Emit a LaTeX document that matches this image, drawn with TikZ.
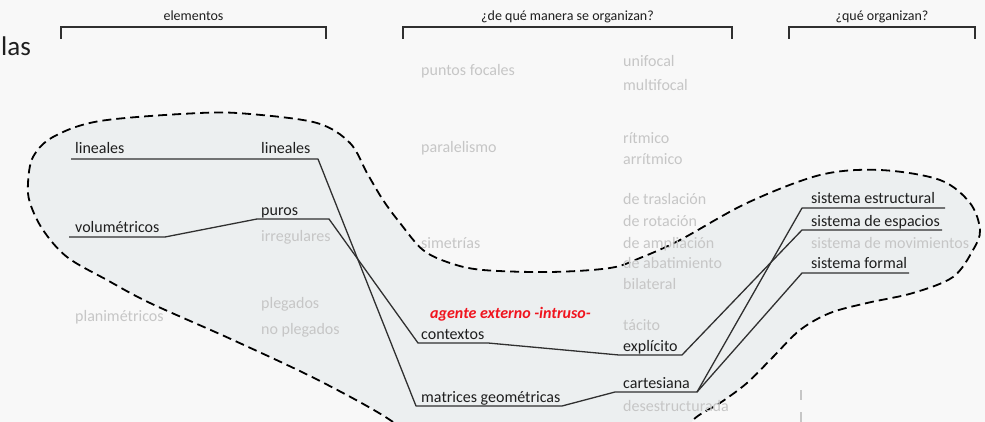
\documentclass[tikz,border=0pt]{standalone}
\usepackage{fontspec}
\setmainfont{Carlito}
\usepackage{xcolor}
\usetikzlibrary{positioning}
\definecolor{bgpage}{HTML}{F8F8F8}
\definecolor{bgblob}{HTML}{ECEFF0}
\definecolor{faint}{HTML}{C6C6C6}
\definecolor{ink}{HTML}{1E1E1E}
\definecolor{wire}{HTML}{303030}
\definecolor{intruder}{HTML}{F0141E}
\tikzstyle{term}    = [anchor=base west, inner sep=0pt, text=ink, font=\fontsize{16}{18}\selectfont]
\tikzstyle{muted}   = [term, text=faint]
\tikzstyle{head}    = [anchor=base, inner sep=0pt, text=ink, font=\fontsize{14}{16}\selectfont]
\tikzstyle{link}    = [draw=wire, line width=1.3pt, line join=round]
\tikzstyle{bracket} = [draw=wire, line width=1.2pt]
\tikzstyle{blob}    = [fill=bgblob, draw=black, line width=1.8pt, dash pattern=on 9pt off 5pt]

\begin{document}
\begin{tikzpicture}[x=1pt, y=-1pt]
    \useasboundingbox (0,0) rectangle (985,422);
    \fill[bgpage] (0,0) rectangle (985,422);

    \begin{scope}
        \clip (0,0) rectangle (985,422);
        \draw[blob] plot[smooth cycle, tension=0.55] coordinates {
            (420,452) (393,422) (320,381) (233,340) (150,303) (107,280) (67,257) (43,230)
            (30,203) (28,183) (33,157) (53,137) (100,121) (200,113) (250,114) (317,123)
            (350,143) (367,173) (383,200) (400,223) (423,250) (450,263) (483,270) (550,272)
            (610,268) (640,258) (680,240) (747,203) (820,175) (880,170) (940,180) (970,203)
            (980,230) (973,250) (953,277) (913,293) (867,303) (830,313) (800,330) (773,357)
            (747,383) (720,403) (693,420) (670,452) (540,470)};
    \end{scope}

    \node (las) at (1,56) [anchor=base west, inner sep=0pt, text=ink, font=\fontsize{27}{30}\selectfont] {las};

    \node (hElem) at (193.5,21) [head] {elementos};
    \node (hHow)  at (567.5,21) [head] {¿de qué manera se organizan?};
    \node (hWhat) at (882,21)   [head] {¿qué organizan?};
    \draw [bracket] (61,39)  -- (61,27)  -- (326,27) -- (326,39);
    \draw [bracket] (403,39) -- (403,27) -- (732,27) -- (732,39);
    \draw [bracket] (789,39) -- (789,27) -- (975,27) -- (975,39);

    \node (lin1)  at (75,154)  [term]  {lineales};
    \node (vol)   at (75,233)  [term]  {volumétricos};
    \node (plan)  at (75,321)  [muted] {planimétricos};
    \node (lin2)  at (261,154) [term]  {lineales};
    \node (puros) at (261,215) [term]  {puros};
    \node (irreg) at (261,241) [muted] {irregulares};
    \node (pleg)  at (261,308) [muted] {plegados};
    \node (nopleg) at (261,334)[muted] {no plegados};

    \node (focal) at (421,76)  [muted] {puntos focales};
    \node (paral) at (421,153) [muted] {paralelismo};
    \node (simet) at (421,248) [muted] {simetrías};
    \node (contx) at (421,339) [term]  {contextos};
    \node (matr)  at (421,402) [term]  {matrices geométricas};
    \node (intru) at (430,318) [anchor=base west, inner sep=0pt, text=intruder, font=\fontsize{16}{18}\selectfont\bfseries\itshape] {agente externo -intruso-};

    \node (unif)  at (623,67)  [muted] {unifocal};
    \node (multf) at (623,91)  [muted] {multifocal};
    \node (ritm)  at (623,144) [muted] {rítmico};
    \node (arrit) at (623,165) [muted] {arrítmico};
    \node (trasl) at (623,205) [muted] {de traslación};
    \node (rotac) at (623,226) [muted] {de rotación};
    \node (ampli) at (623,248) [muted] {de ampliación};
    \node (abati) at (623,269) [muted] {de abatimiento};
    \node (bilat) at (623,289) [muted] {bilateral};
    \node (tacit) at (623,330) [muted] {tácito};
    \node (expl)  at (623,351) [term]  {explícito};
    \node (cart)  at (623,388) [term]  {cartesiana};
    \node (deses) at (623,411) [muted] {desestructurada};

    \node (sEst)  at (811,204) [term]  {sistema estructural};
    \node (sEsp)  at (811,226) [term]  {sistema de espacios};
    \node (sMov)  at (811,248) [muted] {sistema de movimientos};
    \node (sForm) at (811,268) [term]  {sistema formal};

    \coordinate (linA) at (71,159);   \coordinate (linB) at (318,159);
    \coordinate (volA) at (69,237);   \coordinate (volB) at (165,237);
    \coordinate (volC) at (257,219);  \coordinate (volD) at (329,219);
    \coordinate (conA) at (418,343);  \coordinate (conB) at (488,343);
    \coordinate (matA) at (416,406);  \coordinate (matB) at (562,406);
    \coordinate (expA) at (619,355);  \coordinate (expB) at (682,355);
    \coordinate (carA) at (615,392);  \coordinate (carB) at (697,392);
    \coordinate (estA) at (802,208);  \coordinate (estB) at (945,208);
    \coordinate (espA) at (802,230);  \coordinate (espB) at (942,230);
    \coordinate (forA) at (802,273);  \coordinate (forB) at (909,273);

    \draw [link] (linA) -- (linB) -- (matA) -- (matB) -- (carA) -- (carB) -- (estA) -- (estB);
    \draw [link] (carB) -- (forA) -- (forB);
    \draw [link] (volA) -- (volB) -- (volC) -- (volD) -- (conA) -- (conB) -- (expA) -- (expB) -- (espA) -- (espB);

    \draw [faint, line width=2pt, dash pattern=on 10pt off 12pt] (801,390) -- (801,422);
\end{tikzpicture}
\end{document}
